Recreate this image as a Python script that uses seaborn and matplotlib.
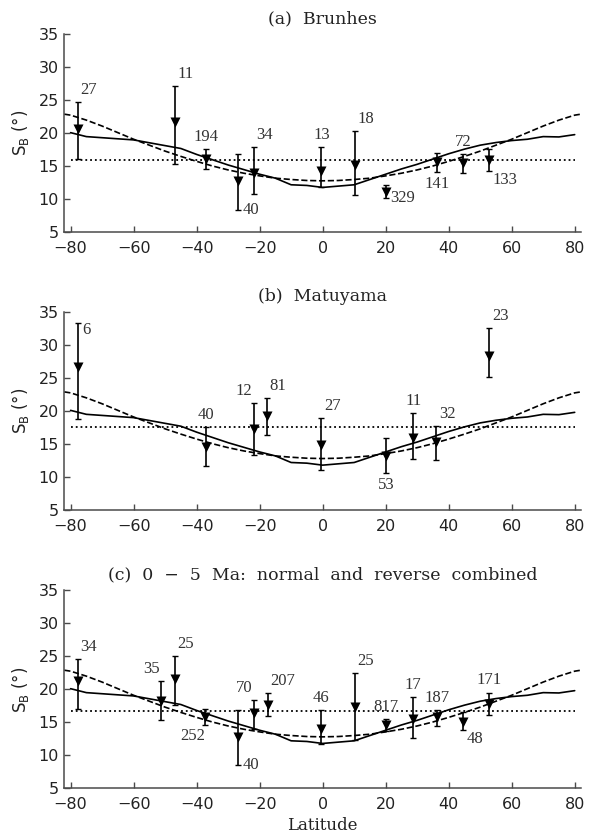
import numpy as np
import pandas as pd
import matplotlib
matplotlib.use("Agg")
import matplotlib.pyplot as plt
import seaborn as sns

# ---- model curves (same in every panel) ----
model_lat = [-80, -75, -60, -45, -40, -35, -30, -25, -20, -15, -10, -5, 0,
             5, 10, 15, 20, 25, 30, 35, 40, 45, 50, 55, 60, 65, 70, 75, 80]
model_sb = [20.1, 19.5, 19.0, 17.7, 16.8, 16.0, 15.2, 14.5, 13.8, 13.2, 12.2, 12.1, 11.8,
            12.0, 12.2, 13.0, 13.8, 14.6, 15.3, 16.1, 16.9, 17.6, 18.2, 18.6, 18.9, 19.1, 19.5, 19.45, 19.8]

gfit_lat = [-82, -80, -75, -70, -65, -60, -55, -50, -45, -40, -35, -30, -25, -20, -15, -10, -5, 0,
            5, 10, 15, 20, 25, 30, 35, 40, 45, 50, 55, 60, 65, 70, 75, 80, 82]
gfit_sb = [22.9, 22.75, 22.0, 21.1, 20.1, 19.1, 18.2, 17.3, 16.5, 15.75, 15.05, 14.45, 13.95, 13.55,
           13.2, 13.0, 12.85, 12.8,
           12.85, 13.0, 13.2, 13.55, 13.95, 14.45, 15.05, 15.75, 16.5, 17.3, 18.2, 19.1, 20.1, 21.1,
           22.0, 22.75, 22.9]

# ---- (a) Brunhes ----
brunhes_lat = [-77.7, -47.0, -37.0, -26.8, -21.9, -0.4, 10.2, 20.1, 36.2, 44.6, 52.9]
brunhes_sb = [20.6, 21.7, 16.1, 12.7, 14.0, 14.3, 15.15, 11.1, 15.65, 15.45, 15.95]
brunhes_lo = [16.1, 15.35, 14.65, 8.4, 10.75, 11.8, 10.6, 10.15, 14.2, 14.05, 14.3]
brunhes_hi = [24.7, 27.15, 17.6, 16.8, 17.9, 17.9, 20.35, 12.2, 16.95, 16.9, 17.6]
brunhes_n = [27, 11, 194, 40, 34, 13, 18, 329, 141, 72, 133]
brunhes_pos = ["ur", "ur", "u", "br", "ur", "u", "ur", "br", "d", "u", "lr"]
brunhes_mean = 16.0

# ---- (b) Matuyama ----
matuyama_lat = [-77.7, -37.0, -21.9, -17.7, -0.4, 20.1, 28.7, 36.0, 52.9]
matuyama_sb = [26.6, 14.55, 17.3, 19.25, 14.8, 13.25, 15.95, 15.25, 28.35]
matuyama_lo = [18.8, 11.7, 13.3, 16.35, 11.05, 10.65, 12.75, 12.65, 25.2]
matuyama_hi = [33.3, 17.55, 21.25, 22.0, 18.95, 15.85, 19.75, 17.75, 32.55]
matuyama_n = [6, 40, 12, 81, 27, 53, 11, 32, 23]
matuyama_pos = ["rt", "u", "ul", "ur", "ur", "d", "u", "ur", "ur"]
matuyama_mean = 17.6

# ---- (c) 0-5 Ma combined ----
combined_lat = [-77.7, -51.2, -47.0, -37.3, -26.8, -21.9, -17.5, -0.4, 10.2, 20.1,
                28.7, 36.2, 44.7, 52.9]
combined_sb = [21.25, 18.2, 21.55, 15.8, 12.75, 16.4, 17.7, 13.95, 17.3, 14.55,
               15.5, 15.75, 15.0, 17.8]
combined_lo = [17.05, 15.4, 17.6, 14.55, 8.5, 14.05, 15.9, 11.75, 12.3, 13.65,
               12.55, 14.4, 13.9, 16.15]
combined_hi = [24.6, 21.25, 25.05, 16.95, 16.8, 18.35, 19.45, 16.9, 22.5, 15.55,
               18.85, 16.9, 16.55, 19.5]
combined_n = [34, 35, 25, 252, 40, 70, 207, 46, 25, 817, 17, 187, 48, 171]
combined_pos = ["ur", "ul", "ur", "dl", "br", "ul", "ur", "u", "ur", "u", "u", "u", "lr", "u"]
combined_mean = 16.7

panels = [
    ("(a)  Brunhes", brunhes_lat, brunhes_sb, brunhes_lo, brunhes_hi, brunhes_n, brunhes_pos, brunhes_mean),
    ("(b)  Matuyama", matuyama_lat, matuyama_sb, matuyama_lo, matuyama_hi, matuyama_n, matuyama_pos, matuyama_mean),
    ("(c)  0  \u2212  5  Ma:  normal  and  reverse  combined", combined_lat, combined_sb, combined_lo,
     combined_hi, combined_n, combined_pos, combined_mean),
]

sns.set_style("ticks")
plt.rcParams["font.family"] = ["DejaVu Sans"]
plt.rcParams["mathtext.fontset"] = "dejavusans"

INK = "#222222"
SPINE = "#4a4a4a"
SERIF_TITLE = "DejaVu Serif"
SERIF_NUM = "Liberation Serif"

fig = plt.figure(figsize=(5.92, 8.35), dpi=100)
left, width, height = 0.1086, 0.8728, 0.2371
bottoms = [0.7218, 0.3892, 0.0559]

# label anchor: (which end of the bar, dx pt, dy pt, ha, va)
anchors = {
    "ur": ("hi", 2, 3, "left", "bottom"),
    "u": ("hi", 0, 3, "center", "bottom"),
    "ul": ("hi", -1, 3, "right", "bottom"),
    "rt": ("hi", 3, 1, "left", "top"),
    "lr": ("lo", 2, -1, "left", "top"),
    "br": ("lo", 3, 0, "left", "center"),
    "d": ("lo", 0, -3, "center", "top"),
    "dl": ("lo", 0, -2, "right", "top"),
}

for i, (title, lat, sb, lo, hi, n, pos, mean) in enumerate(panels):
    ax = fig.add_axes([left, bottoms[i], width, height])

    curves = pd.DataFrame({"lat": model_lat, "sb": model_sb})
    sns.lineplot(data=curves, x="lat", y="sb", ax=ax, color="black", lw=1.2,
                 estimator=None, sort=False)
    gfit = pd.DataFrame({"lat": gfit_lat, "sb": gfit_sb})
    sns.lineplot(data=gfit, x="lat", y="sb", ax=ax, color="black", lw=1.2,
                 linestyle="--", estimator=None, sort=False)
    flat = pd.DataFrame({"lat": [-80, 80], "sb": [mean, mean]})
    sns.lineplot(data=flat, x="lat", y="sb", ax=ax, color="black", lw=1.3,
                 linestyle=":", estimator=None, sort=False)

    lat_a = np.array(lat)
    sb_a = np.array(sb)
    lo_a = np.array(lo)
    hi_a = np.array(hi)
    ax.errorbar(lat_a, sb_a, yerr=[sb_a - lo_a, hi_a - sb_a], fmt="none",
                ecolor="black", elinewidth=1.2, capsize=2.0, capthick=1.0, zorder=3)
    pts = pd.DataFrame({"lat": lat, "sb": sb})
    sns.scatterplot(data=pts, x="lat", y="sb", ax=ax, marker="v", s=52,
                    color="black", edgecolor="black", linewidth=0, zorder=4)

    for x, l, h, count, p in zip(lat, lo, hi, n, pos):
        end, dx, dy, ha, va = anchors[p]
        y = h if end == "hi" else l
        ax.annotate(str(count), (x, y), xytext=(dx, dy), textcoords="offset points",
                    ha=ha, va=va, fontsize=12, family=SERIF_NUM, color="#333333")

    ax.set_xlim(-82, 82)
    ax.set_ylim(5, 35)
    ax.set_xticks(range(-80, 81, 20))
    ax.set_yticks(range(5, 36, 5))
    ax.set_xticklabels(["\u221280", "\u221260", "\u221240", "\u221220", "0", "20", "40", "60", "80"])
    ax.tick_params(direction="in", length=4, width=1.0, color=SPINE, labelcolor=INK,
                   labelsize=11.5)
    ax.tick_params(axis="y", pad=4)
    ax.tick_params(axis="x", pad=6.5)
    sns.despine(ax=ax)
    for side in ("left", "bottom"):
        ax.spines[side].set_color(SPINE)
        ax.spines[side].set_linewidth(1.1)

    ax.set_ylabel("S$_\\mathrm{B}$ (\u00b0)", fontsize=12, color=INK)
    ax.yaxis.set_label_coords(-0.064, 0.5)
    ax.set_xlabel("")
    ax.text(0.5, 1.08, title, transform=ax.transAxes, ha="center", va="center",
            fontsize=12.5, family=SERIF_TITLE, color=INK)

ax.set_xlabel("Latitude", fontsize=12, family=SERIF_TITLE, color=INK, labelpad=3)

fig.savefig("out.png", dpi=100)
